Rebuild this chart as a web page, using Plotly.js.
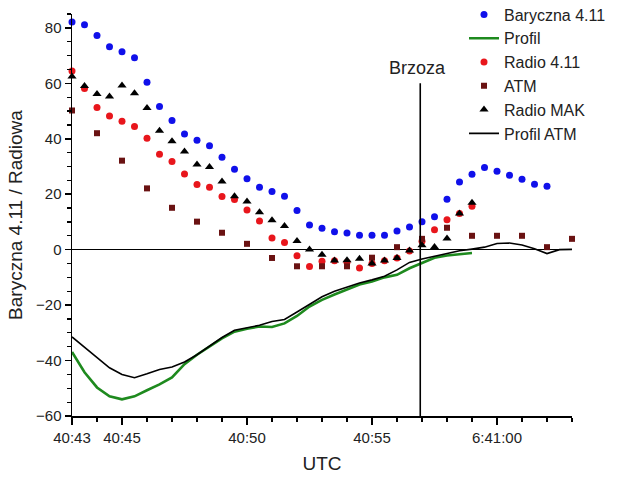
<!DOCTYPE html>
<html>
<head>
<meta charset="utf-8">
<script src="https://cdn.plot.ly/plotly-3.0.1.min.js"></script>
<style>
html,body{margin:0;padding:0;background:#fff;}
#chart{width:619px;height:477px;}
</style>
</head>
<body>
<div id="chart"></div>
<script>
// Time in seconds after 6:40:00 UTC
const tickVals = [43, 45, 50, 55, 60];
const tickText = ["40:43", "40:45", "40:50", "40:55", "6:41:00"];
const yTickVals = [-60, -40, -20, 0, 20, 40, 60, 80];

const baryTime = [43,43.5,44,44.5,45,45.5,46,46.5,47,47.5,48,48.5,49,49.5,50,50.5,51,51.5,52,52.5,53,53.5,54,54.5,55,55.5,56,56.5,57,57.5,58,58.5,59,59.5,60,60.5,61,61.5,62];
const baryValues = [82.1,81.1,77.2,73.2,71.4,69.2,60.4,51.6,46.6,41.7,39.5,37.5,33.3,29.0,25.6,22.5,21.0,19.3,14.1,8.9,7.7,6.5,6.0,5.2,5.2,5.2,6.7,8.2,10.1,11.9,18.2,24.4,27.2,29.6,28.3,26.8,25.4,23.6,22.9];

const radioTime = [43,43.5,44,44.5,45,45.5,46,46.5,47,47.5,48,48.5,49,49.5,50,50.5,51,51.5,52,52.5,53,53.5,54,54.5,55,55.5,56,56.5,57,57.5,58,58.5,59];
const radioValues = [64.4,58.1,51.3,48.2,46.3,44.4,40.2,34.4,31.8,27.3,23.5,22.5,19.2,18.1,14.3,10.3,4.2,2.6,-2.2,-6.1,-4.2,-4.0,-4.5,-6.6,-5.0,-4.0,-3.0,-0.5,3.0,7.2,10.8,13.0,15.7];

const makTime = [43,43.5,44,44.5,45,45.5,46,46.5,47,47.5,48,48.5,49,49.5,50,50.5,51,51.5,52,52.5,53,53.5,54,54.5,55,55.5,56,56.5,57,57.5,58,58.5,59];
const makValues = [62.5,59.0,56.1,55.2,59.2,56.4,51.1,42.9,39.1,35.4,30.7,29.8,24.6,19.3,17.4,13.5,10.6,8.5,3.1,0.1,-1.8,-3.9,-3.8,-3.3,-5.0,-3.9,-3.0,-0.3,1.6,1.0,4.0,13.0,16.9];

const atmTime = [43,44,45,46,47,48,49,50,51,52,53,54,55,56,57,58,59,60,61,62,63];
const atmValues = [50.2,42.0,32.1,22.1,15.1,10.1,6.1,2.1,-3.0,-6.0,-6.0,-6.0,-2.9,0.9,3.9,7.9,5.0,5.0,5.0,0.9,3.9];

const profilTime = [43,43.5,44,44.5,45,45.5,46,46.5,47,47.5,48,48.5,49,49.5,50,50.5,51,51.5,52,52.5,53,53.5,54,54.5,55,55.5,56,56.5,57,57.5,58,58.5,59];
const profilValues = [-36.9,-44.2,-49.7,-52.9,-54.0,-52.9,-50.7,-48.6,-46.1,-41.3,-37.9,-34.9,-32.0,-29.6,-28.5,-27.7,-27.9,-26.6,-23.9,-20.5,-18.1,-16.2,-14.3,-12.6,-11.5,-10.0,-9.1,-6.7,-4.8,-2.9,-2.1,-1.7,-1.2];

const profilAtmTime = [43,43.5,44,44.5,45,45.5,46,46.5,47,47.5,48,48.5,49,49.5,50,50.5,51,51.5,52,52.5,53,53.5,54,54.5,55,55.5,56,56.5,57,57.5,58,58.5,59,59.5,60,60.5,61,61.5,62,62.5,63];
const profilAtmValues = [-31.5,-35.1,-38.7,-42.6,-45.0,-46.2,-44.8,-43.2,-42.3,-40.5,-37.9,-34.8,-31.7,-29.1,-28.1,-27.3,-25.9,-25.2,-22.5,-19.7,-17.0,-15.0,-13.4,-12.0,-10.9,-9.6,-7.3,-4.6,-3.4,-2.4,-1.2,-0.4,0.2,0.9,2.2,2.4,1.7,0.3,-1.4,0.0,0.1];

const brzozaTime = 56.93;

const FONT = "Liberation Sans, Arial, Helvetica, sans-serif";

const traces = [
  {name: "Baryczna 4.11", x: baryTime, y: baryValues, type: "scatter", mode: "markers",
   marker: {symbol: "circle", size: 7, color: "#1010ea"}, cliponaxis: false},
  {name: "Profil", x: profilTime, y: profilValues, type: "scatter", mode: "lines",
   line: {color: "#1e8a1e", width: 2.6}, cliponaxis: false},
  {name: "Radio 4.11", x: radioTime, y: radioValues, type: "scatter", mode: "markers",
   marker: {symbol: "circle", size: 7, color: "#e8161c"}, cliponaxis: false},
  {name: "ATM", x: atmTime, y: atmValues, type: "scatter", mode: "markers",
   marker: {symbol: "square", size: 6, color: "#6a1212"}, cliponaxis: false},
  {name: "Radio MAK", x: makTime, y: makValues, type: "scatter", mode: "markers",
   marker: {symbol: "triangle-up", size: 8, color: "#000000"}, cliponaxis: false},
  {name: "Profil ATM", x: profilAtmTime, y: profilAtmValues, type: "scatter", mode: "lines",
   line: {color: "#000000", width: 1.6}, cliponaxis: false}
];

const layout = {
  width: 619, height: 477,
  margin: {l: 72, r: 47, t: 14, b: 61, autoexpand: false},
  paper_bgcolor: "#ffffff", plot_bgcolor: "#ffffff",
  font: {family: FONT, size: 15, color: "#222222"},
  showlegend: true,
  legend: {x: 0.784, xanchor: "left", y: 1.041, yanchor: "top",
           bgcolor: "rgba(0,0,0,0)", borderwidth: 0,
           font: {family: FONT, size: 16, color: "#222222"}},
  xaxis: {
    range: [43, 63], tickmode: "array", tickvals: tickVals, ticktext: tickText,
    ticks: "outside", ticklen: 7, tickwidth: 1.5, tickcolor: "#000",
    showline: true, linecolor: "#000", linewidth: 1.5, mirror: false,
    showgrid: false, zeroline: false,
    tickfont: {family: FONT, size: 15, color: "#222"},
    minor: {tickmode: "linear", tick0: 43, dtick: 1, ticks: "outside", ticklen: 4, tickwidth: 1.2, tickcolor: "#000", showgrid: false},
    title: {text: "UTC", font: {family: FONT, size: 19, color: "#222"}, standoff: 12}
  },
  yaxis: {
    range: [-60, 85], tickmode: "array", tickvals: yTickVals,
    ticks: "outside", ticklen: 6, tickwidth: 1.5, tickcolor: "#000",
    showline: true, linecolor: "#000", linewidth: 1.5,
    showgrid: false, zeroline: true, zerolinecolor: "#000", zerolinewidth: 1.5,
    tickfont: {family: FONT, size: 15, color: "#222"},
    minor: {tickmode: "linear", tick0: 0, dtick: 5, ticks: "outside", ticklen: 4, tickwidth: 1.2, tickcolor: "#000", showgrid: false},
    title: {text: "Baryczna 4.11 / Radiowa", font: {family: FONT, size: 19, color: "#222"}, standoff: 8}
  },
  shapes: [
    {type: "line", xref: "x", yref: "y", x0: brzozaTime, x1: brzozaTime, y0: -60, y1: 60,
     line: {color: "#000", width: 1.6}, layer: "above"}
  ],
  annotations: [
    {xref: "x", yref: "y", x: brzozaTime - 0.1, y: 65.5, text: "Brzoza", showarrow: false,
     font: {family: FONT, size: 18, color: "#222"}, xanchor: "center", yanchor: "middle"}
  ]
};

Plotly.newPlot("chart", traces, layout, {displayModeBar: false, staticPlot: true});
</script>
</body>
</html>
